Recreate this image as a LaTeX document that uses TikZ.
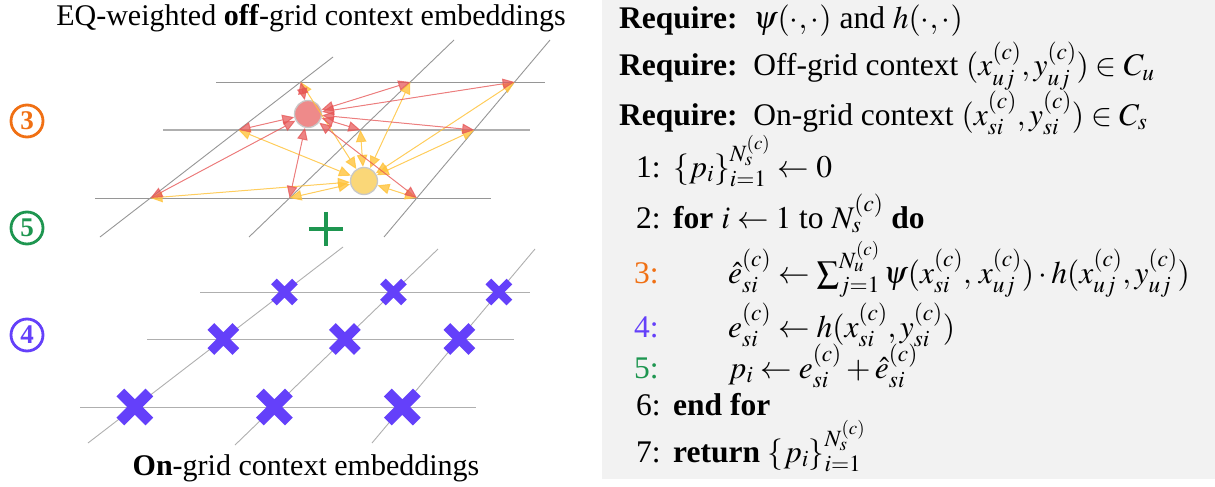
\documentclass[tikz,border=0pt]{standalone}
\usepackage{mathptmx}
\usepackage{fontspec}
\setmainfont{Liberation Serif}
\usetikzlibrary{arrows.meta}
\definecolor{panelgray}{RGB}{242,242,242}
\definecolor{gridgray}{RGB}{150,150,150}
\definecolor{gridlight}{RGB}{175,175,175}
\definecolor{arrred}{RGB}{230,85,85}
\definecolor{arryel}{RGB}{255,195,60}
\definecolor{circred}{RGB}{238,138,138}
\definecolor{circyel}{RGB}{250,215,120}
\definecolor{circedge}{RGB}{200,200,200}
\definecolor{numorange}{RGB}{240,112,20}
\definecolor{numgreen}{RGB}{30,150,80}
\definecolor{numpurple}{RGB}{100,64,250}
\tikzset{
  gridline/.style={draw=gridgray, line width=0.9pt},
  gridmid/.style={draw=gridlight, line width=1.8pt},
  gridthin/.style={draw=gridlight, line width=0.9pt},
  redarrow/.style={draw=arrred, fill=arrred, opacity=0.72, line width=1pt, {Triangle[length=12pt,width=10.5pt]}-{Triangle[length=12pt,width=10.5pt]}},
  yelarrow/.style={draw=arryel, fill=arryel, opacity=0.8, line width=1pt, {Triangle[length=12pt,width=10.5pt]}-{Triangle[length=12pt,width=10.5pt]}},
  ctxpoint/.style={circle, draw=circedge, line width=1.3pt, minimum size=27pt, inner sep=0pt},
  stepnum/.style={circle, draw=#1, text=#1, line width=2.8pt, minimum size=32pt, inner sep=0pt, font=\fontsize{27}{27}\selectfont\bfseries},
  caption/.style={anchor=base, font=\fontsize{30}{36}\selectfont},
  algline/.style={anchor=base west, inner sep=0pt, font=\fontsize{31.5}{38}\selectfont},
  pics/xcross/.style args={#1/#2}{code={\draw[numpurple, line width=#2] (-#1,-#1) -- (#1,#1) (-#1,#1) -- (#1,-#1);}}
}
\begin{document}
\begin{tikzpicture}[x=1pt,y=-1pt]
\useasboundingbox (0,0) rectangle (1215,487);
% right panel
\fill[panelgray] (602,0) rectangle (1215,479);

% captions
\node[caption] (captop) at (311,26) {EQ-weighted \textbf{off}-grid context embeddings};
\node[caption] (capbot) at (306,475) {\textbf{On}-grid context embeddings};

% step labels
\node[stepnum=numorange] (s3) at (27,121) {3};
\node[stepnum=numgreen] (s5) at (27,228) {5};
\node[stepnum=numpurple] (s4) at (27,335) {4};

% ---------- top (off-grid) grid ----------
\coordinate (tD1a) at (100,237); \coordinate (tD1b) at (333,57);
\coordinate (tD2a) at (249,237); \coordinate (tD2b) at (454,40);
\coordinate (tD3a) at (384,237); \coordinate (tD3b) at (550,40);
\coordinate (tH1a) at (216,82);  \coordinate (tH1b) at (545,82);
\coordinate (tH2a) at (163,130); \coordinate (tH2b) at (530,130);
\coordinate (tH3a) at (95,198);  \coordinate (tH3b) at (491,198);
\draw[gridline] (tH1a) -- (tH1b);
\draw[gridmid] (tH2a) -- (tH2b);
\draw[gridline] (tH3a) -- (tH3b);
\draw[gridline] (tD1a) -- (tD1b);
\draw[gridline] (tD2a) -- (tD2b);
\draw[gridline] (tD3a) -- (tD3b);
\foreach \r in {1,2,3}{
  \foreach \c in {1,2,3}{
    \coordinate (g\r\c) at (intersection of tD\c a--tD\c b and tH\r a--tH\r b);
  }
}
\node[ctxpoint, fill=circred] (R) at (308,114) {};
\node[ctxpoint, fill=circyel] (Y) at (364,181) {};
\foreach \g in {g11,g12,g13,g21,g22,g23,g31,g32,g33}{
  \draw[yelarrow] (Y) -- (\g);
}
\foreach \g in {g11,g12,g13,g21,g22,g23,g31,g32,g33}{
  \draw[redarrow] (R) -- (\g);
}

% plus
\node[inner sep=0pt, minimum size=34pt] (plus) at (326,229) {};
\draw[numgreen, line width=4pt] (plus.north) -- (plus.south) (plus.west) -- (plus.east);

% ---------- bottom (on-grid) grid ----------
\coordinate (bD1a) at (88,443);  \coordinate (bD1b) at (343,247);
\coordinate (bD2a) at (235,445); \coordinate (bD2b) at (438,249);
\coordinate (bD3a) at (372,443); \coordinate (bD3b) at (535,249);
\coordinate (bH1a) at (200,292); \coordinate (bH1b) at (530,292);
\coordinate (bH2a) at (147,339); \coordinate (bH2b) at (514,339);
\coordinate (bH3a) at (80,407);  \coordinate (bH3b) at (476,407);
\draw[gridthin] (bH1a) -- (bH1b);
\draw[gridthin] (bH2a) -- (bH2b);
\draw[gridthin] (bH3a) -- (bH3b);
\draw[gridthin] (bD1a) -- (bD1b);
\draw[gridthin] (bD2a) -- (bD2b);
\draw[gridthin] (bD3a) -- (bD3b);
\foreach \r in {1,2,3}{
  \foreach \c in {1,2,3}{
    \coordinate (b\r\c) at (intersection of bD\c a--bD\c b and bH\r a--bH\r b);
  }
}
\foreach \c in {1,2,3}{
  \pic at (b1\c) {xcross={10.5/8pt}};
  \pic at (b2\c) {xcross={12.5/9.5pt}};
  \pic at (b3\c) {xcross={14.5/11pt}};
}

% ---------- algorithm ----------
\node[algline] (req1) at (619,29) {\textbf{Require:}\ \ $\psi(\cdot,\cdot)$ and $h(\cdot,\cdot)$};
\node[algline] (req2) at (619,76) {\textbf{Require:}\ \ Off-grid context $(x_{uj}^{(c)},y_{uj}^{(c)})\in C_u$};
\node[algline] (req3) at (619,125) {\textbf{Require:}\ \ On-grid context $(x_{si}^{(c)},y_{si}^{(c)})\in C_s$};

\node[algline] (n1) at (636,177) {1:};
\node[algline] (n2) at (636,228) {2:};
\node[algline, text=numorange] (n3) at (634,283) {3:};
\node[algline, text=numpurple] (n4) at (634,337) {4:};
\node[algline, text=numgreen] (n5) at (634,378) {5:};
\node[algline] (n6) at (636,415) {6:};
\node[algline] (n7) at (636,462) {7:};

\node[algline] (a1) at (673,177) {$\{p_i\}_{i=1}^{N_s^{(c)}}\leftarrow 0$};
\node[algline] (a2) at (673,228) {\textbf{for} $i\leftarrow 1$ to $N_s^{(c)}$ \textbf{do}};
\node[algline] (a3) at (728,283) {$\hat{e}_{si}^{(c)}\leftarrow \sum_{j=1}^{N_u^{(c)}}\psi(x_{si}^{(c)},\,x_{uj}^{(c)})\cdot h(x_{uj}^{(c)},y_{uj}^{(c)})$};
\node[algline] (a4) at (728,337) {$e_{si}^{(c)}\leftarrow h(x_{si}^{(c)},y_{si}^{(c)})$};
\node[algline] (a5) at (728,378) {$p_i\leftarrow e_{si}^{(c)}+\hat{e}_{si}^{(c)}$};
\node[algline] (a6) at (673,415) {\textbf{end for}};
\node[algline] (a7) at (673,462) {\textbf{return} $\{p_i\}_{i=1}^{N_s^{(c)}}$};
\end{tikzpicture}
\end{document}
